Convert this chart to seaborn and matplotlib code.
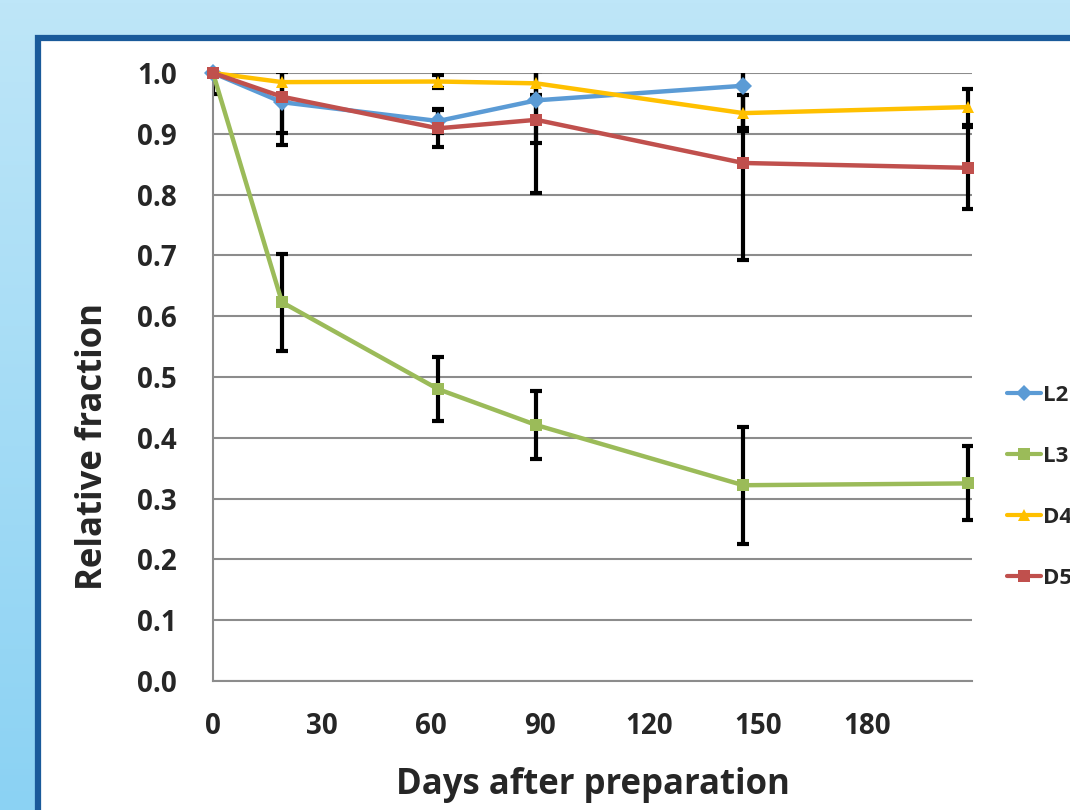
import numpy as np
import pandas as pd
import matplotlib
matplotlib.use('Agg')
import matplotlib.pyplot as plt
import seaborn as sns
from matplotlib.patches import Rectangle
from matplotlib.lines import Line2D

sns.set_style('white')
plt.rcParams['font.family'] = ['Open Sans', 'DejaVu Sans']
plt.rcParams['font.weight'] = 'bold'

# data
days = [0, 19, 62, 89, 146, 208]
l2 = [1.0, 0.952, 0.921, 0.955, 0.979, np.nan]
l3 = [1.0, 0.623, 0.480, 0.421, 0.322, 0.325]
d4 = [1.0, 0.985, 0.986, 0.983, 0.934, 0.944]
d5 = [1.0, 0.961, 0.909, 0.923, 0.852, 0.844]

l2_err = [0.0, 0.05, 0.02, 0.07, 0.07, np.nan]
l3_err = [0.0, 0.08, 0.053, 0.056, 0.096, 0.061]
d4_err = [0.0, 0.02, 0.01, 0.02, 0.03, 0.03]
d5_err = [0.035, 0.08, 0.03, 0.12, 0.16, 0.067]

names = ['L2', 'L3', 'D4', 'D5']
colors = {'L2': '#5B9BD5', 'L3': '#9BBB59', 'D4': '#FFC000', 'D5': '#C0504D'}
markers = {'L2': 'D', 'L3': 's', 'D4': '^', 'D5': 's'}

vals = {'L2': l2, 'L3': l3, 'D4': d4, 'D5': d5}
errs = {'L2': l2_err, 'L3': l3_err, 'D4': d4_err, 'D5': d5_err}

rows = []
for n in names:
    for d, v, e in zip(days, vals[n], errs[n]):
        if not np.isnan(v):
            rows.append({'day': d, 'frac': v, 'err': e, 'series': n})
df = pd.DataFrame(rows)

fig = plt.figure(figsize=(10.7, 8.1), dpi=100)

# light blue background, a bit deeper toward the bottom
bg = fig.add_axes([0, 0, 1, 1], zorder=-10)
grad = np.linspace(0, 1, 256).reshape(-1, 1)
bg.imshow(grad, aspect='auto', extent=[0, 1, 0, 1],
          cmap=matplotlib.colors.LinearSegmentedColormap.from_list('bgc', ['#BEE6F8', '#8BD2F3']))
bg.axis('off')
fig.patches.append(Rectangle((38 / 1070, -0.02), 1.05, 1 - 38 / 810 + 0.02,
                             transform=fig.transFigure, facecolor='white',
                             edgecolor='#1A5A9A', linewidth=4.5, zorder=-5))

ax = fig.add_axes([213 / 1070, 1 - 681 / 810, (972 - 213) / 1070, (681 - 73) / 810])
ax.set_facecolor('none')

for n in names:
    sub = df[df['series'] == n]
    ax.errorbar(sub['day'], sub['frac'], yerr=sub['err'], fmt='none',
                ecolor='black', elinewidth=3, capsize=4, capthick=3, zorder=2)

sns.lineplot(data=df, x='day', y='frac', hue='series', style='series',
             palette=colors, markers=markers, dashes=False, ax=ax,
             linewidth=3.2, markersize=9, markeredgewidth=0,
             legend=False, zorder=3, clip_on=False)

ax.set_xlim(0, 209)
ax.set_ylim(0, 1.0)
ax.set_xticks([0, 30, 60, 90, 120, 150, 180])
ax.set_yticks(np.arange(0, 1.01, 0.1))
ax.set_yticklabels([f'{v:.1f}' for v in np.arange(0, 1.01, 0.1)])
ax.grid(axis='y', color='#8C8C8C', linewidth=1.5)
ax.grid(axis='x', visible=False)
for s in ['top', 'right']:
    ax.spines[s].set_visible(False)
for s in ['left', 'bottom']:
    ax.spines[s].set_color('#8C8C8C')
    ax.spines[s].set_linewidth(1.5)
ax.tick_params(axis='both', direction='out', length=8, width=1.5, color='#8C8C8C',
               labelsize=20)
ax.tick_params(axis='x', pad=14)
ax.tick_params(axis='y', pad=18)
ax.set_xlabel('Days after preparation', fontsize=25, fontweight='bold', labelpad=19)
ax.set_ylabel('Relative fraction', fontsize=25, fontweight='bold')
ax.yaxis.set_label_coords(-0.134, 0.385)

handles = [Line2D([0], [0], color=colors[n], marker=markers[n], linewidth=3,
                  markersize=8, markeredgewidth=0) for n in names]
fig.legend(handles, names, loc='upper left', bbox_to_anchor=(0.933, 0.536),
           frameon=False, handlelength=1.5, handletextpad=0.1,
           labelspacing=1.8, borderaxespad=0, prop={'weight': 'bold', 'size': 16})

fig.savefig('out.png', dpi=100)
